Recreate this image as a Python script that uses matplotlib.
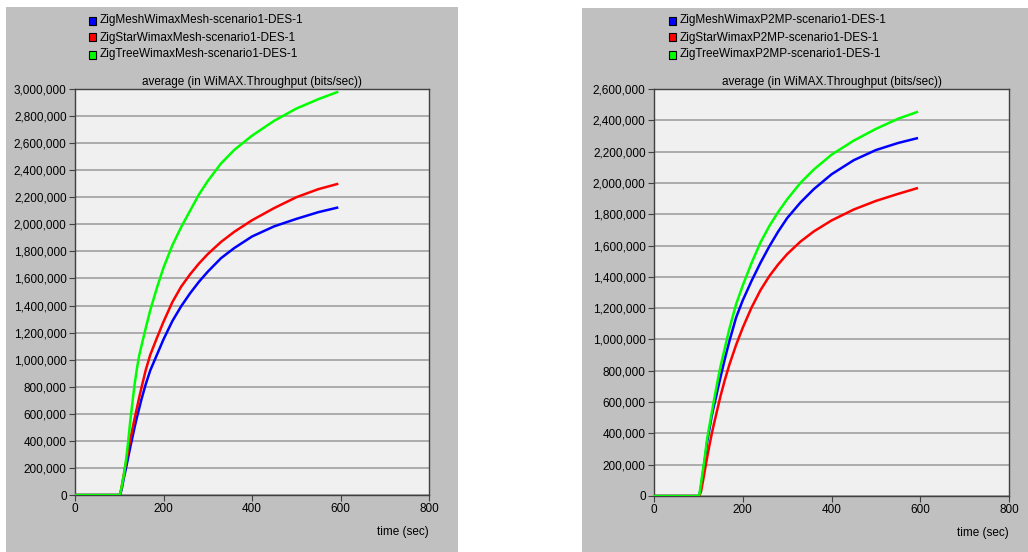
import matplotlib
matplotlib.use("Agg")
import matplotlib.pyplot as plt
from matplotlib.patches import Rectangle
from matplotlib.ticker import FuncFormatter, MultipleLocator

plt.rcParams['font.family'] = ['Liberation Sans', 'DejaVu Sans']

# shared time grid (sec)
time_sec = [0, 100, 102, 106, 110, 115, 120, 125, 130, 135, 140, 145, 150, 160, 170,
            185, 200, 220, 240, 260, 280, 300, 330, 360, 400, 450, 500, 550, 595]

# left panel: WiMAX Mesh (bits/sec, millions)
mesh_names = ["ZigMeshWimaxMesh-scenario1-DES-1",
              "ZigStarWimaxMesh-scenario1-DES-1",
              "ZigTreeWimaxMesh-scenario1-DES-1"]
mesh_zigmesh = [0, 0, 0, 0.05, 0.12, 0.195, 0.275, 0.355, 0.43, 0.505, 0.575, 0.64, 0.705,
                0.82, 0.92, 1.035, 1.15, 1.285, 1.395, 1.49, 1.575, 1.65, 1.75, 1.825,
                1.91, 1.985, 2.04, 2.09, 2.125]
mesh_zigstar = [0, 0, 0.005, 0.07, 0.145, 0.235, 0.325, 0.41, 0.49, 0.57, 0.645, 0.72,
                0.79, 0.925, 1.035, 1.16, 1.28, 1.425, 1.54, 1.63, 1.71, 1.78, 1.87, 1.945,
                2.03, 2.12, 2.20, 2.26, 2.30]
mesh_zigtree = [0, 0, 0.005, 0.07, 0.14, 0.25, 0.39, 0.55, 0.69, 0.825, 0.935, 1.03, 1.10,
                1.235, 1.365, 1.53, 1.68, 1.845, 1.98, 2.10, 2.22, 2.32, 2.45, 2.55, 2.655,
                2.765, 2.855, 2.925, 2.98]

# right panel: WiMAX P2MP
p2mp_names = ["ZigMeshWimaxP2MP-scenario1-DES-1",
              "ZigStarWimaxP2MP-scenario1-DES-1",
              "ZigTreeWimaxP2MP-scenario1-DES-1"]
p2mp_zigmesh = [0, 0, 0, 0.06, 0.14, 0.24, 0.35, 0.43, 0.51, 0.575, 0.635, 0.70, 0.76,
                0.88, 0.99, 1.14, 1.25, 1.375, 1.49, 1.595, 1.69, 1.775, 1.875, 1.96,
                2.055, 2.145, 2.21, 2.255, 2.287]
p2mp_zigstar = [0, 0, 0, 0.03, 0.09, 0.17, 0.25, 0.325, 0.395, 0.46, 0.52, 0.58, 0.64,
                0.745, 0.84, 0.965, 1.075, 1.205, 1.315, 1.405, 1.48, 1.545, 1.625, 1.69,
                1.76, 1.83, 1.885, 1.93, 1.968]
p2mp_zigtree = [0, 0, 0.005, 0.08, 0.16, 0.26, 0.37, 0.45, 0.53, 0.61, 0.685, 0.76, 0.83,
                0.95, 1.07, 1.225, 1.345, 1.49, 1.62, 1.725, 1.815, 1.895, 2.0, 2.085,
                2.18, 2.27, 2.345, 2.41, 2.455]

colors = ["#0000ff", "#ff0000", "#00ff00"]
W, H = 1028, 552

fig = plt.figure(figsize=(W / 100, H / 100), dpi=100)
fig.patch.set_facecolor("white")

# gray panel backgrounds (pixel boxes)
for x0, y0, x1, y1 in [(6, 7, 458, 552), (582, 8, 1028, 552)]:
    fig.add_artist(Rectangle((x0 / W, 1 - y1 / H), (x1 - x0) / W, (y1 - y0) / H,
                             transform=fig.transFigure, facecolor="#c0c0c0",
                             edgecolor="none", zorder=0))


def draw_panel(ax_box, legend_x, names, series, ymax):
    l, t, r, b = ax_box
    ax = fig.add_axes([l / W, 1 - b / H, (r - l) / W, (b - t) / H])
    ax.set_facecolor("#f0f0f0")
    for vals, c in zip(series, colors):
        ax.plot(time_sec, [v * 1e6 for v in vals], color=c, lw=1.8,
                solid_capstyle="butt", solid_joinstyle="round", zorder=3)
    ax.set_xlim(0, 800)
    ax.set_ylim(0, ymax)
    ax.xaxis.set_major_locator(MultipleLocator(200))
    ax.yaxis.set_major_locator(MultipleLocator(200000))
    ax.yaxis.set_major_formatter(FuncFormatter(lambda v, p: f"{int(round(v)):,}"))
    ax.grid(axis="y", color="#a0a0a0", lw=1.2)
    ax.set_axisbelow(True)
    for s in ax.spines.values():
        s.set_color("#404040")
        s.set_linewidth(1.0)
    ax.tick_params(labelsize=8.5, length=4, width=0.8, color="#404040", pad=2)
    ax.set_title("average (in WiMAX.Throughput (bits/sec))", fontsize=8.5, pad=3)
    ax.set_xlabel("time (sec)", fontsize=8.5, loc="right", labelpad=8)

    # legend rows
    for i, (name, c) in enumerate(zip(names, colors)):
        yc = 20.5 + i * 17
        fig.add_artist(Rectangle((legend_x / W, 1 - (yc + 4) / H), 7 / W, 8 / H,
                                 transform=fig.transFigure, facecolor=c,
                                 edgecolor="black", lw=0.8, zorder=2))
        fig.text((legend_x + 11) / W, 1 - yc / H, name, fontsize=8.5,
                 va="center", ha="left")
    return ax


draw_panel((75, 89, 429, 495), 89, mesh_names,
           [mesh_zigmesh, mesh_zigstar, mesh_zigtree], 3000000)
draw_panel((654, 89, 1009, 496), 669, p2mp_names,
           [p2mp_zigmesh, p2mp_zigstar, p2mp_zigtree], 2600000)

fig.savefig("out.png", dpi=100, facecolor=fig.get_facecolor())
